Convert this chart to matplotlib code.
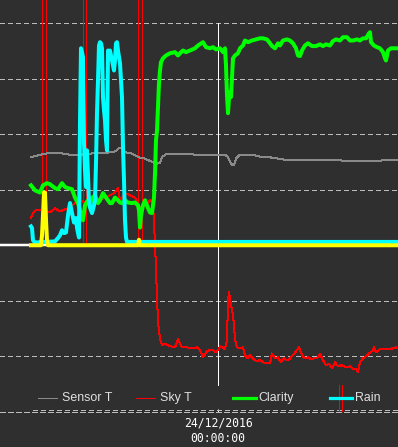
import matplotlib
matplotlib.use("Agg")
import matplotlib.pyplot as plt
from matplotlib.lines import Line2D

# time axis: minutes relative to 24/12/2016 00:00:00
sensor_time = [-374, -360, -346, -332, -320, -306, -290, -276, -262, -236, -220, -206, -198, -192, -186,
               -172, -156, -146, -136, -122, -116, -112, -102, -86, -56, -26, 8, 16, 20, 24,
               28, 32, 36, 42, 64, 74, 88, 100, 136, 174, 244, 248, 324, 334, 360]
sensor_val = [15.9, 16.2, 16.5, 16.7, 16.6, 16.5, 16.2, 16.3, 16.5, 16.6, 16.7, 16.9, 17.5, 17.6, 16.8,
              16.5, 15.8, 15.6, 15.2, 14.7, 14.9, 15.9, 16.5, 16.5, 16.4, 16.2, 16.2, 16.2, 15.9, 15.0,
              14.5, 14.5, 15.6, 16.2, 16.3, 16.2, 15.9, 15.9, 15.4, 15.4, 15.4, 15.2, 15.2, 15.4, 15.4]

sky_time = [-374, -370, -364, -356, -346, -336, -326, -316, -306, -296,
            -286, -276, -266, -256, -246, -236, -226, -216, -206, -200,
            -196, -186, -176, -166, -156, -146, -136, -130, -126, -124,
            -122, -120, -116, -112, -106, -96, -86, -80, -72, -62,
            -52, -42, -36, -30, -22, -16, -10, -4, 0, 4,
            14, 18, 20, 22, 26, 28, 30, 32, 34, 38,
            44, 50, 54, 58, 64, 70, 76, 84, 90, 96,
            104, 108, 114, 120, 126, 132, 138, 144, 150, 156,
            162, 168, 174, 180, 186, 192, 198, 204, 210, 216,
            222, 228, 234, 240, 246, 252, 258, 264, 270, 276,
            280, 284, 290, 296, 302, 308, 312, 316, 324, 334,
            344, 356, 360]
sky_val = [4.9, 5.8, 6.3, 6.3, 6.3, 5.9, 6.7, 6.1, 6.5, 6.8,
           7.6, 8.1, 7.7, 8.6, 8.5, 8.1, 8.6, 9.0, 9.5, 10.3,
           8.1, 9.4, 9.0, 8.6, 6.8, 7.2, 8.1, 7.6, 0.4, -4.5,
           -9.4, -13.9, -16.8, -18.0, -17.7, -18.2, -18.4, -16.9, -18.4, -18.4,
           -18.6, -18.4, -18.9, -20.2, -19.1, -18.9, -18.9, -19.3, -18.9, -18.2,
           -18.7, -17.1, -9.9, -8.5, -10.8, -11.7, -12.6, -14.4, -16.9, -18.4,
           -18.6, -18.4, -19.8, -20.4, -19.8, -20.4, -20.9, -20.7, -21.1, -21.3,
           -21.3, -19.5, -20.4, -20.2, -21.1, -20.4, -20.7, -20.4, -19.8, -19.1,
           -18.4, -19.8, -20.4, -20.2, -20.5, -20.4, -20.4, -19.6, -20.7, -21.6,
           -21.4, -22.2, -21.1, -21.8, -21.6, -21.8, -22.0, -21.8, -22.3, -22.3,
           -22.9, -21.1, -20.4, -20.0, -19.5, -19.1, -18.4, -19.3, -18.7, -18.7,
           -18.7, -18.4, -18.5]

clarity_time = [-374, -366, -356, -350, -342, -336, -326, -320, -312, -306,
                -300, -292, -286, -280, -276, -272, -270, -266, -260, -256,
                -252, -246, -240, -236, -230, -224, -216, -212, -206, -200,
                -196, -192, -186, -180, -172, -166, -160, -158, -156, -154,
                -150, -146, -140, -136, -132, -128, -126, -124, -122, -120,
                -118, -116, -114, -110, -104, -96, -86, -80, -76, -70,
                -64, -56, -46, -40, -30, -24, -16, -10, -4, 4,
                10, 14, 16, 18, 20, 22, 24, 26, 28, 30,
                34, 40, 44, 50, 54, 60, 68, 76, 84, 90,
                98, 104, 108, 114, 120, 124, 130, 138, 144, 150,
                156, 160, 164, 168, 174, 180, 188, 196, 204, 210,
                216, 224, 230, 236, 244, 250, 258, 264, 270, 278,
                284, 290, 296, 302, 304, 306, 312, 318, 324, 330,
                334, 336, 340, 346, 354, 360]
clarity_val = [10.8, 9.9, 9.5, 10.8, 11.2, 11.0, 10.3, 10.1, 11.2, 10.5,
               10.3, 10.1, 8.6, 7.6, 6.3, 5.0, 4.5, 7.2, 8.1, 7.2,
               8.5, 9.0, 7.6, 8.1, 9.4, 8.6, 7.6, 7.6, 8.6, 8.1,
               7.7, 7.6, 8.1, 7.7, 7.6, 7.7, 7.2, 6.3, 3.2, 5.4,
               7.2, 8.1, 6.7, 5.9, 5.8, 8.6, 13.0, 18.9, 20.7, 24.9,
               29.2, 31.5, 33.0, 33.7, 34.2, 34.6, 34.8, 34.2, 34.6, 35.1,
               34.8, 35.1, 35.5, 36.0, 36.6, 35.7, 35.5, 35.7, 35.3, 35.5,
               34.8, 35.5, 32.4, 27.0, 23.8, 26.5, 27.6, 26.7, 30.1, 33.7,
               34.2, 34.6, 35.5, 36.0, 36.9, 36.6, 36.9, 37.1, 37.3, 37.3,
               37.1, 36.4, 35.9, 35.5, 36.4, 36.0, 36.9, 37.1, 36.9, 36.4,
               35.5, 34.2, 34.1, 35.1, 36.0, 36.4, 35.9, 35.9, 36.2, 35.9,
               36.2, 36.0, 36.8, 37.1, 36.9, 37.5, 37.5, 36.9, 36.9, 37.1,
               36.9, 37.3, 37.3, 38.2, 38.4, 36.6, 36.0, 35.7, 35.5, 34.8,
               33.7, 33.3, 35.1, 35.5, 35.5, 35.5]

rain_time = [-374, -372, -370, -366, -326, -320, -316, -312, -308, -304,
             -300, -296, -292, -288, -284, -282, -280, -278, -276, -274,
             -272, -270, -268, -266, -264, -262, -260, -258, -256, -252,
             -248, -246, -244, -242, -240, -238, -236, -234, -232, -230,
             -228, -226, -224, -222, -220, -218, -216, -212, -208, -206,
             -204, -202, -200, -196, -192, -190, -188, -186, -184, -182,
             0, 360]
rain_val = [3.4, 3.1, 0.9, 0.5, 0.7, 1.3, 1.8, 2.7, 2.2, 2.3,
            5.4, 7.6, 5.8, 4.1, 4.9, 3.2, 2.2, 1.4, 22.5, 35.5,
            34.8, 33.9, 18.4, 13.5, 10.5, 17.1, 12.6, 7.6, 6.8, 5.8,
            7.2, 8.1, 14.8, 23.8, 29.7, 36.0, 36.6, 36.4, 35.5, 26.7,
            24.3, 22.5, 18.9, 17.1, 35.1, 34.8, 35.1, 33.3, 31.5, 33.3,
            36.4, 36.6, 35.1, 32.8, 26.7, 17.7, 11.7, 4.5, 1.4, 0.6,
            0.6, 0.6]

yellow_time = [-374, -354, -352, -350, -348, -346, -344, -342, -340, -160, -158, -156, 360]
yellow_val = [0, 0, 1.8, 5.4, 9.5, 9.5, 4.5, 0.9, 0, 0, 1.0, 0, 0]

event_times = [-348, -267, -156]
legend_event_time = [245]
grid_values = [-20, -10, 10, 20, 30, 40]
legend_labels = ["Sensor T", "Sky T", "Clarity", "Rain"]
legend_colors = ["#8a8a8a", "#ff0000", "#00ff00", "#00ffff"]
date_label = "24/12/2016\n00:00:00"

BG = "#2f2f2f"
GRID = "#bcbcbc"
PX = 0.72  # points per pixel at dpi 100

fig = plt.figure(figsize=(3.98, 4.47), dpi=100, facecolor=BG)
ax = fig.add_axes([0, 1 - 412.3 / 447, 1, 412.3 / 447])
ax.set_facecolor(BG)
ax.set_xlim(-436, 360)
ax.set_ylim(-30.1, 44.2)

for s in ["top", "left", "right"]:
    ax.spines[s].set_visible(False)
ax.spines["bottom"].set_color(GRID)
ax.spines["bottom"].set_linestyle((0, (5, 3)))
ax.spines["bottom"].set_linewidth(PX)
ax.spines["bottom"].set_antialiased(False)

ax.set_yticks(grid_values)
ax.tick_params(axis="y", length=0, labelleft=False)
ax.yaxis.grid(True, color=GRID, linestyle=(0, (5, 3)), linewidth=PX, antialiased=False)
ax.set_axisbelow(True)

ax.set_xticks([0], labels=[date_label])
ax.tick_params(axis="x", direction="in", length=2.2, width=PX, colors="white",
               labelcolor="white", pad=3.0)
for lab in ax.get_xticklabels():
    lab.set_fontfamily("DejaVu Sans Mono")
    lab.set_fontsize(8.3)
    lab.set_linespacing(1.3)

# secondary dashed line just above the bottom axis
ax.hlines(-29.7, sensor_time[0] + 4, 360, colors=GRID, linestyles=(0, (5, 3)),
          linewidth=PX, zorder=1, antialiased=False)

# zero line
ax.axhline(0, color="white", linewidth=2.5 * PX, zorder=1.2)

# red event markers (pairs of thin lines)
for e in event_times:
    ax.vlines([e - 3.3, e + 3.3], 0, 44.2, colors="#ff0000", linewidth=PX,
              zorder=1.5, antialiased=False)
for e in legend_event_time:
    ax.vlines([e - 3.3, e + 3.3], -29.9, -25.2, colors="#ff0000", linewidth=PX,
              zorder=7, antialiased=False)

# cursor line at midnight
ax.vlines(0, -25.2, 40, colors="white", linewidth=PX, zorder=1.6, antialiased=False)

ax.plot(sensor_time, sensor_val, color=legend_colors[0], linewidth=PX, zorder=2, antialiased=False)
ax.plot(sky_time, sky_val, color=legend_colors[1], linewidth=PX, zorder=3, antialiased=False)
ax.plot(clarity_time, clarity_val, color=legend_colors[2], linewidth=4 * PX, zorder=4)
ax.plot(rain_time, rain_val, color=legend_colors[3], linewidth=4 * PX, zorder=5)
ax.plot(yellow_time, yellow_val, color="#ffff00", linewidth=4 * PX, zorder=6)

# legend row
leg_y = 1 - 398 / 447
handle_x = [(38, 57), (136, 155), (233, 256), (330, 352)]
text_x = [62, 160, 258, 355]
handle_w = [1.0, 1.0, 3.2, 3.2]
for lab, col, (x0, x1), tx, w in zip(legend_labels, legend_colors, handle_x, text_x, handle_w):
    fig.add_artist(Line2D([x0 / 398, x1 / 398], [leg_y, leg_y], color=col,
                          linewidth=w * PX, transform=fig.transFigure, zorder=8))
    fig.text(tx / 398, leg_y, lab, color="#e0e0e0", fontsize=8.9,
             family=["Liberation Sans", "DejaVu Sans"], ha="left", va="center", zorder=8)

fig.savefig("out.png", dpi=100, facecolor=BG)
